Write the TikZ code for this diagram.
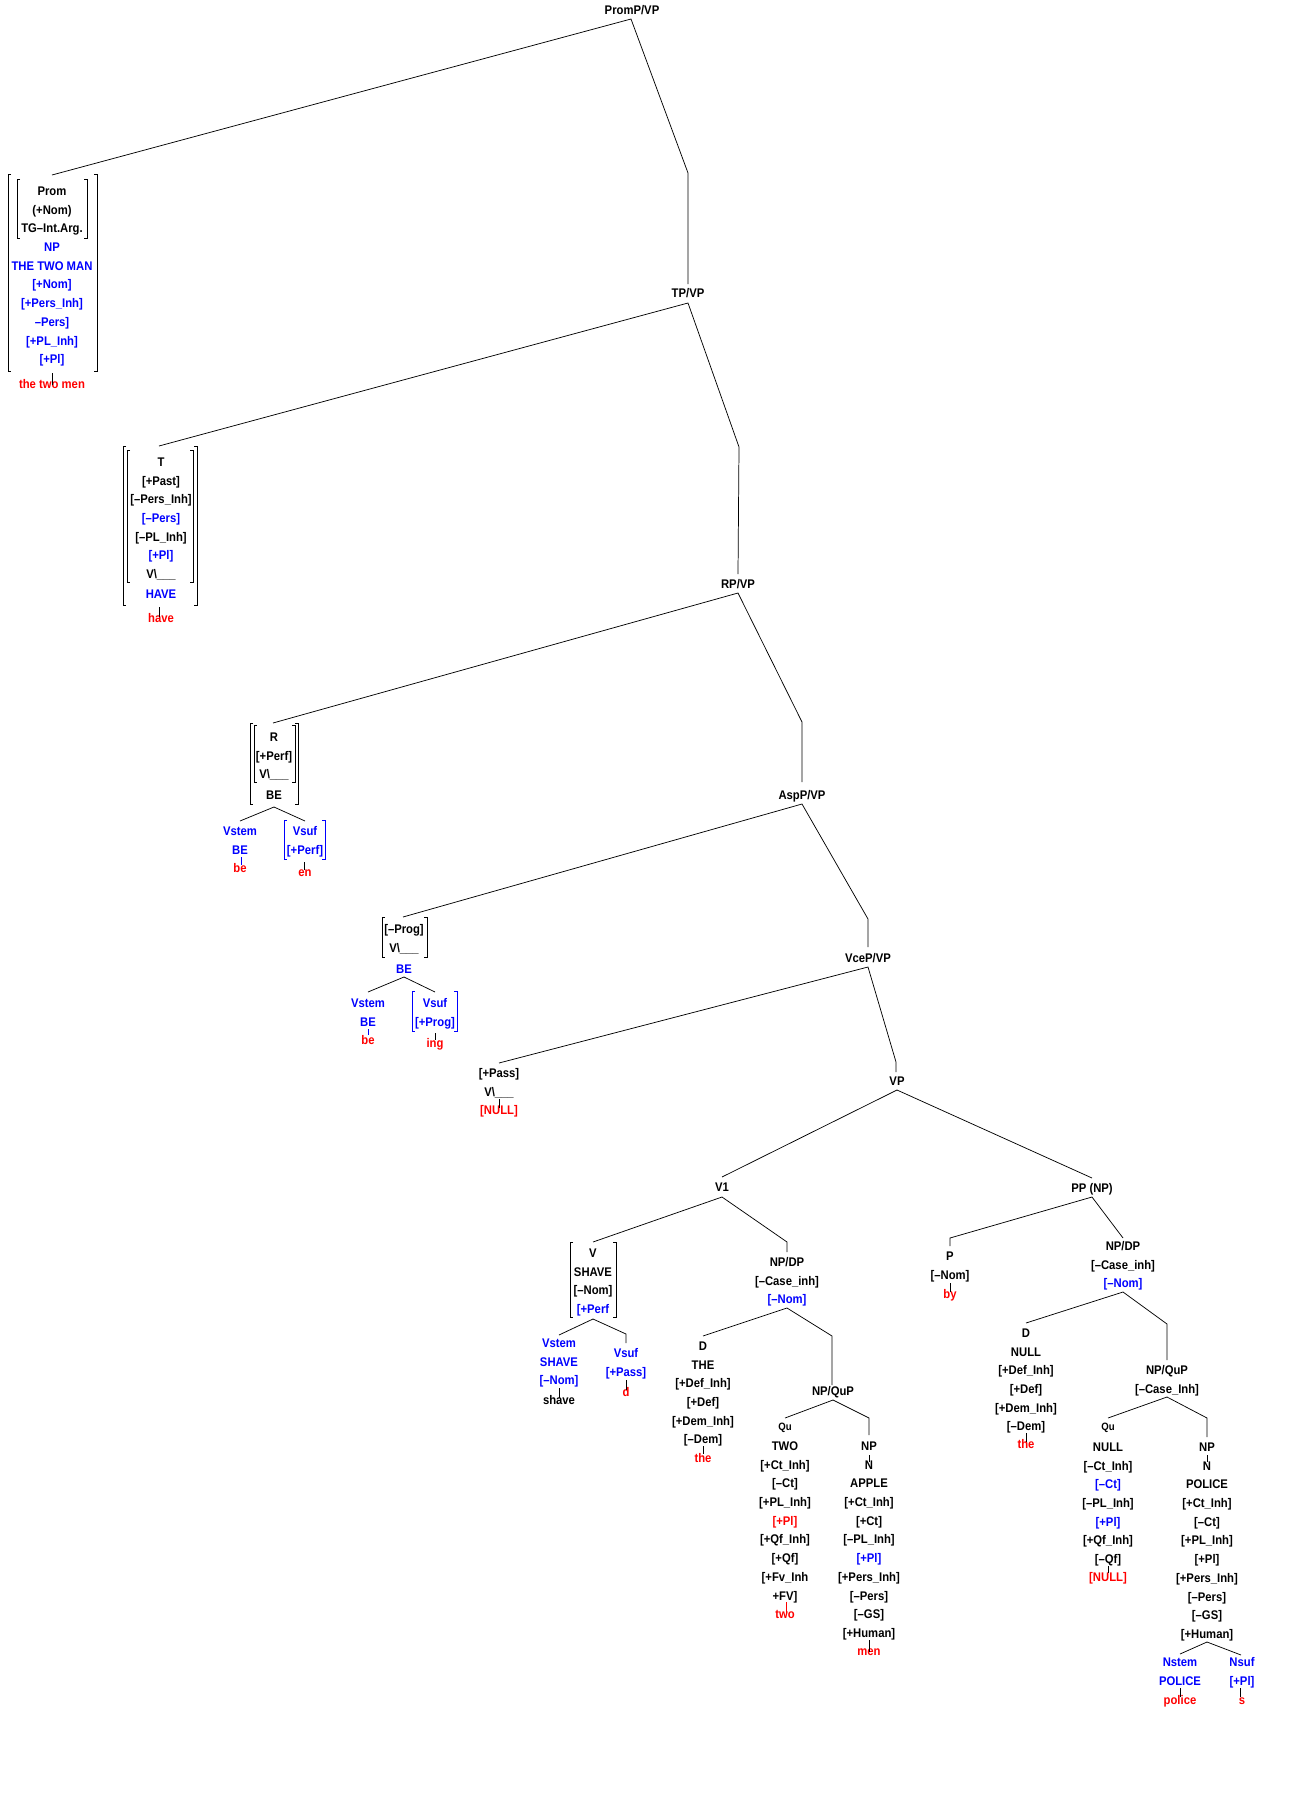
\documentclass[tikz,border=0pt]{standalone}
\usepackage{fontspec}
\setmainfont{Liberation Sans}[FakeStretch=0.9]
\newcommand\fs{\bfseries\fontsize{9.4}{11}\selectfont}
\newcommand\fss{\bfseries\fontsize{8}{10}\selectfont}
\newcommand\brk[5]{%
  \draw[#5,line width=0.55pt] ({#1+3},#3) -- (#1,#3) -- (#1,#4) -- ({#1+3},#4);
  \draw[#5,line width=0.55pt] ({#2-3},#3) -- (#2,#3) -- (#2,#4) -- ({#2-3},#4);}
\newcommand\fstack[4]{\foreach \s/\t [count=\i] in {#4}{\node[lab,\s] (#1-\i) at (#2,{#3+18.7*(\i-1)}) {\t};}}
\newcommand\tick[5]{\coordinate (#1-u) at (#2,#3); \coordinate (#1-d) at (#2,#4); \draw[edge,#5] (#1-u) -- (#1-d);}
\newcommand\vbar{V\textbackslash\_\_\_}
\begin{document}
\begin{tikzpicture}[x=0.75pt,y=-0.75pt,
  lab/.style={inner sep=0pt, font=\fs, text height=6.6pt, text depth=0pt, anchor=center},
  kb/.style={text=black}, ku/.style={text=blue}, kr/.style={text=red},
  small/.style={font=\fss, text height=5.6pt},
  edge/.style={line width=0.55pt, line cap=butt}]
\useasboundingbox (0,0) rectangle (1306,1810);

% ---------- PromP/VP ----------
\node[lab] (promp) at (632,10) {PromP/VP};
\coordinate (promp-a) at (631,19);
\coordinate (prom-top) at (52,175);
\coordinate (promp-bend) at (688,173);
\coordinate (tp-top) at (688,284);
\draw[edge] (prom-top) -- (promp-a) -- (promp-bend) -- (tp-top);

\brk{8}{97}{174}{371}{black}
\brk{17}{87}{179}{238}{black}
\fstack{prom}{52}{191}{kb/Prom,kb/(+Nom),kb/TG–Int.Arg.,ku/NP,ku/THE TWO MAN,ku/[+Nom],ku/[+Pers\_Inh],ku/–Pers],ku/[+PL\_Inh],ku/[+Pl]}
\node[lab,kr] (prom-w) at (52,384) {the two men};
\tick{tk1}{52}{373}{385}{black}

% ---------- TP/VP ----------
\node[lab] (tp) at (688,293) {TP/VP};
\coordinate (tp-a) at (688,303);
\coordinate (t-top) at (159,446);
\coordinate (tp-bend) at (739,447);
\coordinate (rp-top) at (738,574);
\draw[edge] (t-top) -- (tp-a) -- (tp-bend) -- (rp-top);

\brk{123}{197}{446}{605}{black}
\brk{127}{193}{450}{582}{black}
\fstack{t}{161}{462}{kb/T,kb/[+Past],kb/[–Pers\_Inh],ku/[–Pers],kb/[–PL\_Inh],ku/[+Pl],kb/\vbar}
\node[lab,ku] (t-have) at (161,594) {HAVE};
\node[lab,kr] (t-w) at (161,618) {have};
\tick{tk2}{159}{607}{617}{black}

% ---------- RP/VP ----------
\node[lab] (rp) at (738,584) {RP/VP};
\coordinate (rp-a) at (738,593);
\coordinate (r-top) at (273,723);
\coordinate (rp-bend) at (802,722);
\coordinate (asp-top) at (802,782);
\draw[edge] (r-top) -- (rp-a) -- (rp-bend) -- (asp-top);

\brk{250}{298}{723}{804}{black}
\brk{254}{295}{725}{782}{black}
\fstack{r}{274}{737}{kb/R,kb/[+Perf],kb/\vbar}
\node[lab] (r-be) at (274,795) {BE};
\coordinate (r-a) at (274,807);
\coordinate (r-l) at (240,821);
\coordinate (r-r) at (305,821);
\draw[edge] (r-l) -- (r-a) -- (r-r);
\fstack{rs}{240}{831}{ku/Vstem,ku/BE}
\node[lab,kr] (rs-w) at (240,868) {be};
\tick{tk3}{241}{857}{865}{blue}
\brk{284}{325}{820}{859}{blue}
\fstack{rf}{305}{831}{ku/Vsuf,ku/[+Perf]}
\node[lab,kr] (rf-w) at (305,872) {en};
\tick{tk4}{304}{862}{870}{black}

% ---------- AspP/VP ----------
\node[lab] (asp) at (802,795) {AspP/VP};
\coordinate (asp-a) at (802,804);
\coordinate (prog-top) at (403,917);
\coordinate (asp-bend) at (868,919);
\coordinate (vce-top) at (868,947);
\draw[edge] (prog-top) -- (asp-a) -- (asp-bend) -- (vce-top);

\brk{382}{427}{917}{957}{black}
\fstack{pg}{404}{929}{kb/[–Prog],kb/\vbar}
\node[lab,ku] (pg-be) at (404,969) {BE};
\coordinate (pg-a) at (404,977);
\coordinate (pg-l) at (368,992);
\coordinate (pg-r) at (435,992);
\draw[edge] (pg-l) -- (pg-a) -- (pg-r);
\fstack{ps}{368}{1003}{ku/Vstem,ku/BE}
\node[lab,kr] (ps-w) at (368,1040) {be};
\tick{tk5}{368}{1029}{1035}{blue}
\brk{412}{457}{991}{1031}{blue}
\fstack{pf}{435}{1003}{ku/Vsuf,ku/[+Prog]}
\node[lab,kr] (pf-w) at (435,1043) {ing};
\tick{tk6}{435}{1033}{1040}{black}

% ---------- VceP/VP ----------
\node[lab] (vce) at (868,958) {VceP/VP};
\coordinate (vce-a) at (868,967);
\coordinate (pass-top) at (499,1063);
\coordinate (vce-bend) at (896,1062);
\coordinate (vp-top) at (896,1072);
\draw[edge] (pass-top) -- (vce-a) -- (vce-bend) -- (vp-top);
\fstack{pa}{499}{1073}{kb/[+Pass],kb/\vbar}
\node[lab,kr] (pa-w) at (499,1110) {[NULL]};
\tick{tk7}{499}{1099}{1108}{black}

% ---------- VP ----------
\node[lab] (vp) at (897,1081) {VP};
\coordinate (vp-a) at (897,1090);
\coordinate (v1-top) at (722,1177);
\coordinate (pp-top) at (1092,1178);
\draw[edge] (v1-top) -- (vp-a) -- (pp-top);

% ---------- V1 ----------
\node[lab] (v1) at (722,1187) {V1};
\coordinate (v1-a) at (722,1197);
\coordinate (v-top) at (593,1242);
\coordinate (v1-bend) at (787,1242);
\coordinate (npdp1-top) at (787,1252);
\draw[edge] (v-top) -- (v1-a) -- (v1-bend) -- (npdp1-top);

\brk{570}{616}{1242}{1317}{black}
\fstack{v}{593}{1253}{kb/V,kb/SHAVE,kb/[–Nom],ku/[+Perf}
\coordinate (v-a) at (593,1319);
\coordinate (v-l) at (559,1335);
\coordinate (v-bend) at (626,1334);
\coordinate (v-r) at (626,1343);
\draw[edge] (v-l) -- (v-a) -- (v-bend) -- (v-r);
\fstack{vs}{559}{1343}{ku/Vstem,ku/SHAVE,ku/[–Nom]}
\node[lab] (vs-w) at (559,1400) {shave};
\tick{tk8}{559}{1388}{1398}{black}
\fstack{vf}{626}{1353}{ku/Vsuf,ku/[+Pass]}
\node[lab,kr] (vf-w) at (626,1392) {d};
\tick{tk9}{626}{1380}{1390}{black}

% NP/DP (object)
\fstack{nd1}{787}{1262}{kb/{NP/DP},kb/[–Case\_inh],ku/[–Nom]}
\coordinate (nd1-a) at (787,1308);
\coordinate (d1-top) at (703,1336);
\coordinate (nd1-bend) at (832,1336);
\coordinate (nq1-top) at (832,1385);
\draw[edge] (d1-top) -- (nd1-a) -- (nd1-bend) -- (nq1-top);
\fstack{d1}{703}{1346}{kb/D,kb/THE,kb/[+Def\_Inh],kb/[+Def],kb/[+Dem\_Inh],kb/[–Dem]}
\node[lab,kr] (d1-w) at (703,1458) {the};
\tick{tk10}{703}{1446}{1454}{black}

\node[lab] (nq1) at (833,1391) {NP/QuP};
\coordinate (nq1-a) at (833,1400);
\coordinate (q1-top) at (785,1418);
\coordinate (nq1-bend) at (869,1418);
\coordinate (np1-top) at (869,1435);
\draw[edge] (q1-top) -- (nq1-a) -- (nq1-bend) -- (np1-top);
\node[lab,small] (q1) at (785,1427) {Qu};
\fstack{q1f}{785}{1446}{kb/TWO,kb/[+Ct\_Inh],kb/[–Ct],kb/[+PL\_Inh],kr/[+Pl],kb/[+Qf\_Inh],kb/[+Qf],kb/[+Fv\_Inh,kb/+FV]}
\node[lab,kr] (q1-w) at (785,1614) {two};
\tick{tk11}{786}{1602}{1613}{red}
\fstack{np1}{869}{1446}{kb/NP,kb/N,kb/APPLE,kb/[+Ct\_Inh],kb/[+Ct],kb/[–PL\_Inh],ku/[+Pl],kb/[+Pers\_Inh],kb/[–Pers],kb/[–GS],kb/[+Human]}
\node[lab,kr] (np1-w) at (869,1651) {men};
\tick{tk12}{869}{1455}{1462}{black}
\tick{tk13}{869}{1640}{1652}{black}

% ---------- PP (NP) ----------
\node[lab] (pp) at (1092,1188) {PP (NP)};
\coordinate (pp-a) at (1092,1197);
\coordinate (pp-bend) at (950,1238);
\coordinate (p-top) at (950,1246);
\coordinate (nd2-top) at (1123,1238);
\draw[edge] (p-top) -- (pp-bend) -- (pp-a) -- (nd2-top);
\fstack{p}{950}{1256}{kb/P,kb/[–Nom]}
\node[lab,kr] (p-w) at (950,1294) {by};
\tick{tk14}{950}{1283}{1292}{black}

\fstack{nd2}{1123}{1246}{kb/{NP/DP},kb/[–Case\_inh],ku/[–Nom]}
\coordinate (nd2-a) at (1123,1292);
\coordinate (d2-top) at (1026,1323);
\coordinate (nd2-bend) at (1167,1324);
\coordinate (nq2-top) at (1167,1360);
\draw[edge] (d2-top) -- (nd2-a) -- (nd2-bend) -- (nq2-top);
\fstack{d2}{1026}{1333}{kb/D,kb/NULL,kb/[+Def\_Inh],kb/[+Def],kb/[+Dem\_Inh],kb/[–Dem]}
\node[lab,kr] (d2-w) at (1026,1444) {the};
\tick{tk15}{1026}{1433}{1442}{black}

\fstack{nq2}{1167}{1370}{kb/{NP/QuP},kb/[–Case\_Inh]}
\coordinate (nq2-a) at (1167,1397);
\coordinate (q2-top) at (1108,1418);
\coordinate (nq2-bend) at (1207,1418);
\coordinate (np2-top) at (1207,1437);
\draw[edge] (q2-top) -- (nq2-a) -- (nq2-bend) -- (np2-top);
\node[lab,small] (q2) at (1108,1427) {Qu};
\fstack{q2f}{1108}{1447}{kb/NULL,kb/[–Ct\_Inh],ku/[–Ct],kb/[–PL\_Inh],ku/[+Pl],kb/[+Qf\_Inh],kb/[–Qf]}
\node[lab,kr] (q2-w) at (1108,1577) {[NULL]};
\tick{tk16}{1108}{1566}{1573}{black}

\fstack{np2}{1207}{1447}{kb/NP,kb/N,kb/POLICE,kb/[+Ct\_Inh],kb/[–Ct],kb/[+PL\_Inh],kb/[+Pl],kb/[+Pers\_Inh],kb/[–Pers],kb/[–GS],kb/[+Human]}
\tick{tk17}{1207}{1455}{1462}{black}
\coordinate (np2-a) at (1207,1642);
\coordinate (ns-top) at (1180,1654);
\coordinate (nf-top) at (1241,1655);
\draw[edge] (ns-top) -- (np2-a) -- (nf-top);
\fstack{ns}{1180}{1662}{ku/Nstem,ku/POLICE}
\node[lab,kr] (ns-w) at (1180,1700) {police};
\tick{tk18}{1180}{1688}{1697}{black}
\fstack{nf}{1242}{1662}{ku/Nsuf,ku/[+Pl]}
\node[lab,kr] (nf-w) at (1242,1700) {s};
\tick{tk19}{1240}{1688}{1697}{black}
\end{tikzpicture}
\end{document}
